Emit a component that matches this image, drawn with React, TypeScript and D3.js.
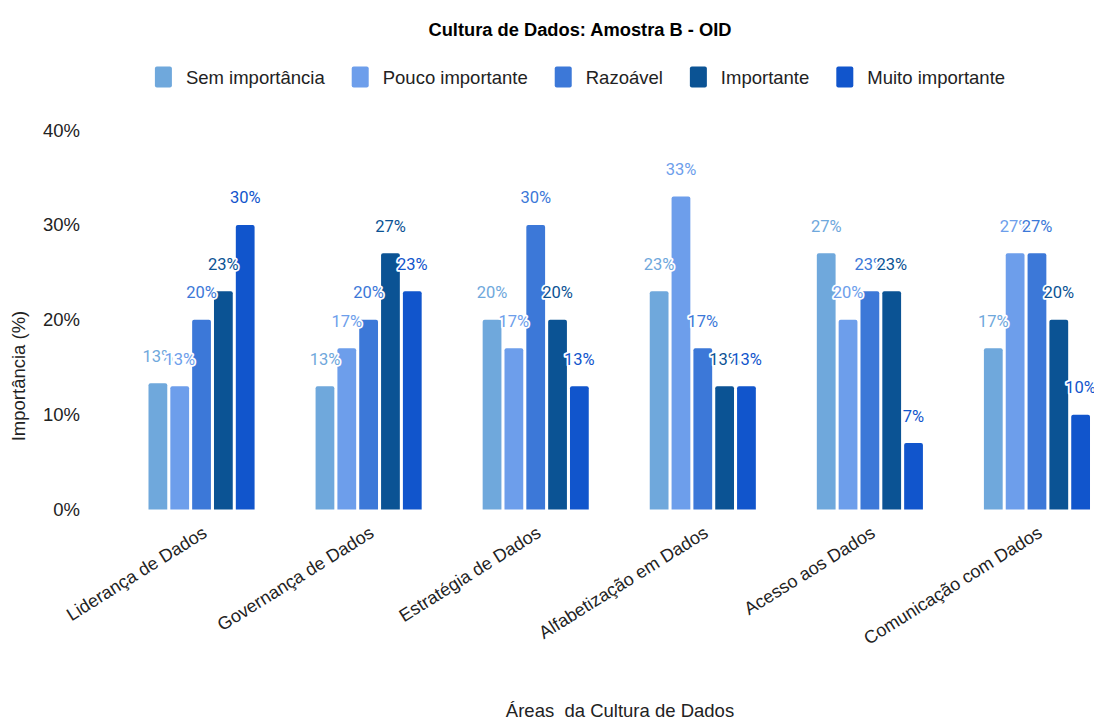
import React, { useEffect, useRef } from "react";
import * as d3 from "d3";

const categories = [
  "Liderança de Dados",
  "Governança de Dados",
  "Estratégia de Dados",
  "Alfabetização em Dados",
  "Acesso aos Dados",
  "Comunicação com Dados",
];
const seriesNames = ["Sem importância", "Pouco importante", "Razoável", "Importante", "Muito importante"];
const seriesColors = ["#6fa8dc", "#6d9eeb", "#3c78d8", "#0b5394", "#1155cc"];
const semImportancia = [13.3, 13, 20, 23, 27, 17];
const poucoImportante = [13, 17, 17, 33, 20, 27];
const razoavel = [20, 20, 30, 17, 23, 27];
const importante = [23, 27, 20, 13, 23, 20];
const muitoImportante = [30, 23, 13, 13, 7, 10];
const seriesValues = [semImportancia, poucoImportante, razoavel, importante, muitoImportante];
const yTicks = [0, 10, 20, 30, 40];

const W = 1094;
const H = 720;

function topRoundedRect(x: number, y: number, w: number, h: number, r: number) {
  const rr = Math.min(r, h, w / 2);
  return `M${x},${y + h}V${y + rr}Q${x},${y} ${x + rr},${y}H${x + w - rr}Q${x + w},${y} ${x + w},${y + rr}V${y + h}Z`;
}

export default function App() {
  const ref = useRef<SVGSVGElement>(null);
  useEffect(() => {
    document.body.style.margin = "0";
    const svg = d3.select(ref.current);
    svg.selectAll("*").remove();

    const x0 = d3.scaleBand<string>().domain(categories).range([118, 1120.5]).paddingInner(0.365).paddingOuter(0.1825);
    const x1 = d3.scaleBand<string>().domain(seriesNames).range([0, x0.bandwidth()]).paddingInner(0.14);
    const y = d3.scaleLinear().domain([0, 40]).range([509.5, 130]);

    const sansFont = "'Liberation Sans', Arial, sans-serif";
    const labelFont = "Roboto, 'Noto Sans', sans-serif";
    const fs = 18.5;

    // title
    svg.append("text").attr("x", 580).attr("y", 36).attr("text-anchor", "middle")
      .attr("font-family", sansFont).attr("font-weight", "bold").attr("font-size", 18.3).attr("fill", "#000")
      .text("Cultura de Dados: Amostra B - OID");

    // legend
    const lg = svg.append("g");
    const items: { g: any; w: number }[] = [];
    seriesNames.forEach((name, i) => {
      const g = lg.append("g");
      g.append("rect").attr("x", 0).attr("y", -10.5).attr("width", 17).attr("height", 21).attr("rx", 2)
        .attr("fill", seriesColors[i]);
      const t = g.append("text").attr("x", 31).attr("y", 6.5).attr("font-family", sansFont).attr("font-size", fs)
        .attr("fill", "#222").text(name);
      const tw = (t.node() as SVGTextElement).getComputedTextLength();
      items.push({ g, w: 31 + tw });
    });
    const gap = 27;
    const total = d3.sum(items, (d) => d.w) + gap * (items.length - 1);
    let cx = 580 - total / 2;
    items.forEach((it) => {
      it.g.attr("transform", `translate(${cx},77)`);
      cx += it.w + gap;
    });

    // y ticks
    svg.append("g").selectAll("text").data(yTicks).join("text")
      .attr("x", 80).attr("y", (d) => y(d) + 6.5).attr("text-anchor", "end")
      .attr("font-family", sansFont).attr("font-size", fs).attr("fill", "#222")
      .text((d) => `${d}%`);

    // y title
    svg.append("text").attr("transform", "translate(25,376) rotate(-90)").attr("text-anchor", "middle")
      .attr("font-family", sansFont).attr("font-size", fs).attr("fill", "#222").text("Importância (%)");

    // x title
    svg.append("text").attr("x", 620).attr("y", 717).attr("text-anchor", "middle")
      .style("white-space", "pre")
      .attr("font-family", sansFont).attr("font-size", fs).attr("fill", "#222").text("Áreas  da Cultura de Dados");

    // x labels
    svg.append("g").selectAll("text").data(categories).join("text")
      .attr("transform", (d) => `translate(${(x0(d) as number) + x0.bandwidth() / 2 + 6.5},536) rotate(-32)`)
      .attr("text-anchor", "end").attr("font-family", sansFont).attr("font-size", 18).attr("fill", "#222")
      .text((d) => d);

    // bars
    const barsG = svg.append("g");
    seriesValues.forEach((vals, si) => {
      barsG.append("g").selectAll("path").data(vals).join("path")
        .attr("d", (v, ci) => {
          const bx = (x0(categories[ci]) as number) + (x1(seriesNames[si]) as number);
          return topRoundedRect(bx, y(v), x1.bandwidth(), y(0) - y(v), 2);
        })
        .attr("fill", seriesColors[si]);
    });

    // labels
    const labG = svg.append("g");
    categories.forEach((cat, ci) => {
      seriesValues.forEach((vals, si) => {
        const v = vals[ci];
        const bx = (x0(cat) as number) + (x1(seriesNames[si]) as number) + x1.bandwidth() / 2;
        labG.append("text").attr("x", bx).attr("y", y(v) - 21.5).attr("text-anchor", "middle")
          .attr("font-family", labelFont).attr("font-size", 16.5).attr("fill", seriesColors[si])
          .attr("stroke", "#fff").attr("stroke-width", 3.5).attr("stroke-linejoin", "round")
          .attr("paint-order", "stroke")
          .text(`${Math.round(v)}%`);
      });
    });
  }, []);
  return <svg ref={ref} width={W} height={H} style={{ display: "block", background: "#fff" }} />;
}
